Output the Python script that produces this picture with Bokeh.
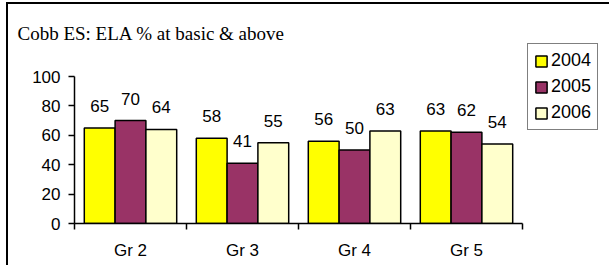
from bokeh.plotting import figure
from bokeh.models import (ColumnDataSource, FixedTicker, Range1d, Legend, LegendItem,
                          InlineStyleSheet)
from bokeh.core.properties import value
from bokeh.embed import file_html
from bokeh.resources import INLINE

# ---- data ----
categories = ["Gr 2", "Gr 3", "Gr 4", "Gr 5"]
years = ["2004", "2005", "2006"]
vals_2004 = [65, 58, 56, 63]
vals_2005 = [70, 41, 50, 62]
vals_2006 = [64, 55, 63, 54]
y_ticks = [0, 20, 40, 60, 80, 100]
title_text = "Cobb ES: ELA % at basic & above"

colors = ["#FFFF00", "#993366", "#FFFFCC"]
series = [vals_2004, vals_2005, vals_2006]

# ---- layout (pixels) ----
W, H = 603, 263
LEFT, TOP, BOTTOM = 66, 38, 44
PX_PER_CAT = 112.0
PX_PER_UNIT = 1.47
frame_w = W - LEFT
frame_h = H - TOP - BOTTOM
x_end = frame_w / PX_PER_CAT
y_end = frame_h / PX_PER_UNIT

p = figure(width=W, height=H, output_backend="svg", toolbar_location=None,
           x_range=Range1d(0, x_end), y_range=Range1d(0, y_end),
           min_border_left=LEFT, min_border_right=0, min_border_top=TOP, min_border_bottom=BOTTOM)
p.stylesheets = [InlineStyleSheet(css=":host { margin-left: 6px; margin-top: 2px; "
                                      "border-top: 2px solid black; border-left: 2px solid black; }")]
p.outline_line_color = None
p.background_fill_color = "white"
p.border_fill_color = "white"
p.xgrid.visible = False
p.ygrid.visible = False

p.title.text = title_text
p.title.text_font = "Liberation Serif"
p.title.text_font_size = "19px"
p.title.text_font_style = "normal"
p.title.text_color = "black"
p.title.align = "left"
p.title.offset = -57
p.title.standoff = -3

bar_w = 0.275
offsets = [-bar_w, 0.0, bar_w]
FONT = "Liberation Sans"

items = []
for yr, vals, col, off in zip(years, series, colors, offsets):
    xs = [i + 0.5 + off for i in range(len(categories))]
    src = ColumnDataSource(dict(x=xs, top=vals, lbl=[str(v) for v in vals]))
    r = p.vbar(x="x", top="top", bottom=0, width=bar_w, source=src,
               fill_color=col, line_color="black", line_width=1.5)
    p.text(x="x", y="top", text="lbl", source=src, text_align="center",
           text_baseline="alphabetic", y_offset=-22, text_font=value(FONT),
           text_font_size="17px", text_color="black")
    items.append(LegendItem(label=yr, renderers=[r]))

# axes
xa = p.xaxis[0]
xa.bounds = (0, len(categories))
xa.ticker = FixedTicker(ticks=[i + 0.5 for i in range(len(categories))],
                        minor_ticks=list(range(len(categories) + 1)))
xa.major_label_overrides = {i + 0.5: c for i, c in enumerate(categories)}
xa.major_tick_out = 0
xa.major_tick_in = 0
xa.minor_tick_out = 6
xa.minor_tick_in = 0
xa.minor_tick_line_color = "black"
xa.minor_tick_line_width = 1.5
xa.major_label_standoff = 11
xa.axis_line_color = "black"
xa.axis_line_width = 1.5
xa.major_label_text_font = FONT
xa.major_label_text_font_size = "17px"
xa.major_label_text_color = "black"

ya = p.yaxis[0]
ya.bounds = (y_ticks[0], y_ticks[-1])
ya.ticker = FixedTicker(ticks=y_ticks)
ya.minor_tick_line_color = None
ya.major_tick_out = 6
ya.major_tick_in = 0
ya.major_tick_line_color = "black"
ya.major_tick_line_width = 1.5
ya.major_label_standoff = 8
ya.axis_line_color = "black"
ya.axis_line_width = 1.5
ya.major_label_text_font = FONT
ya.major_label_text_font_size = "17px"
ya.major_label_text_color = "black"

legend = Legend(items=items, location=(453, 93), orientation="vertical",
                border_line_color="black", border_line_width=1.5,
                background_fill_color="white", background_fill_alpha=1.0,
                padding=6, spacing=5, glyph_width=14, glyph_height=14,
                label_height=20, label_standoff=3,
                label_text_font=FONT, label_text_font_size="18px",
                label_text_color="black", margin=0)
p.add_layout(legend, "center")

open("out.html", "w").write(file_html(p, INLINE))
